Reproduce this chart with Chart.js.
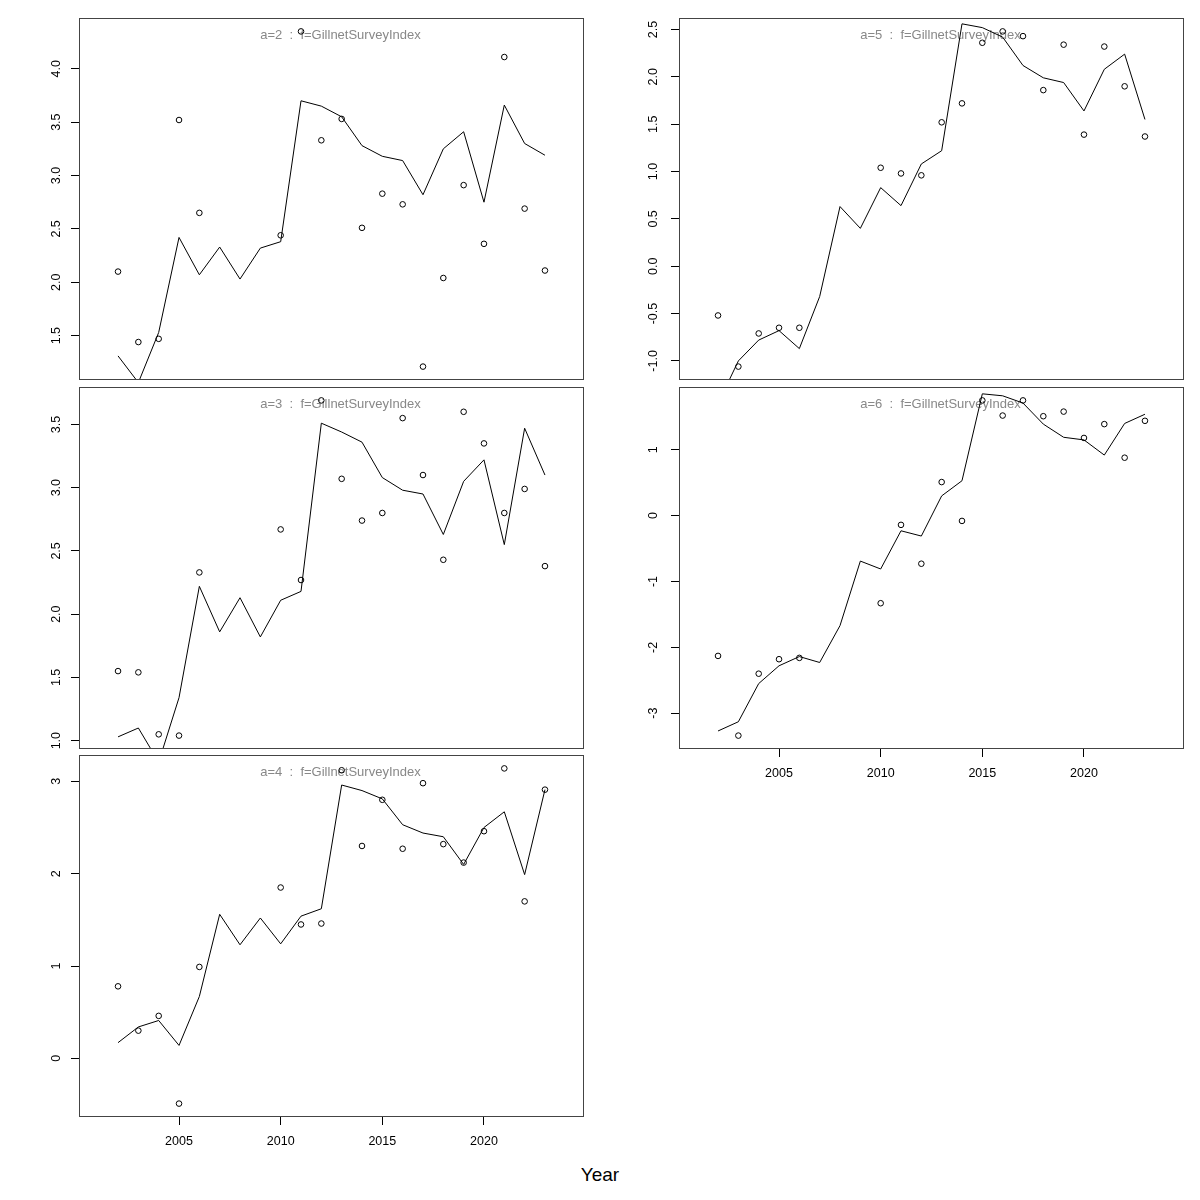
<!DOCTYPE html>
<html>
<head>
<meta charset="utf-8">
<script src="https://cdn.jsdelivr.net/npm/chart.js@4.4.1/dist/chart.umd.min.js"></script>
<style>
body { margin: 0; background: #fff; }
#wrap { position: relative; width: 1200px; height: 1200px; background: #fff; }
#wrap canvas { position: absolute; }
#xlab { position: absolute; left: 0; top: 1165px; width: 1200px; text-align: center;
	font: 19px "Liberation Sans", Arial, sans-serif; line-height: 19px; color: #000; }
</style>
</head>
<body>
<div id="wrap">
	<canvas id="a2" width="600" height="386" style="left:0px;top:6px"></canvas>
	<canvas id="a3" width="600" height="386" style="left:0px;top:375px"></canvas>
	<canvas id="a4" width="600" height="414" style="left:0px;top:743px"></canvas>
	<canvas id="a5" width="600" height="386" style="left:600px;top:6px"></canvas>
	<canvas id="a6" width="600" height="414" style="left:600px;top:375px"></canvas>
	<div id="xlab">Year</div>
</div>
<script>
// survey years
const years = [2002, 2003, 2004, 2005, 2006, 2007, 2008, 2009, 2010, 2011, 2012,
	2013, 2014, 2015, 2016, 2017, 2018, 2019, 2020, 2021, 2022, 2023];
const xTicks = [2005, 2010, 2015, 2020];

// observed (circles) and fitted (line), per age
const obsA2 = [2.10, 1.44, 1.47, 3.52, 2.65, null, null, null, 2.44, 4.35, 3.33,
	3.53, 2.51, 2.83, 2.73, 1.21, 2.04, 2.91, 2.36, 4.11, 2.69, 2.11];
const fitA2 = [1.31, 1.06, 1.53, 2.42, 2.07, 2.33, 2.03, 2.32, 2.38, 3.70, 3.65,
	3.55, 3.28, 3.18, 3.14, 2.82, 3.25, 3.41, 2.75, 3.66, 3.30, 3.19];

const obsA3 = [1.55, 1.54, 1.05, 1.04, 2.33, null, null, null, 2.67, 2.27, 3.69,
	3.07, 2.74, 2.80, 3.55, 3.10, 2.43, 3.60, 3.35, 2.80, 2.99, 2.38];
const fitA3 = [1.03, 1.10, 0.83, 1.34, 2.22, 1.86, 2.13, 1.82, 2.11, 2.18, 3.51,
	3.44, 3.36, 3.08, 2.98, 2.95, 2.63, 3.05, 3.22, 2.55, 3.47, 3.10];

const obsA4 = [0.78, 0.30, 0.46, -0.49, 0.99, null, null, null, 1.85, 1.45, 1.46,
	3.12, 2.30, 2.80, 2.27, 2.98, 2.32, 2.12, 2.46, 3.14, 1.70, 2.91];
const fitA4 = [0.17, 0.34, 0.41, 0.14, 0.67, 1.56, 1.23, 1.52, 1.24, 1.54, 1.62,
	2.96, 2.90, 2.81, 2.53, 2.44, 2.40, 2.10, 2.50, 2.67, 1.99, 2.91];

const obsA5 = [-0.52, -1.06, -0.71, -0.65, -0.65, null, null, null, 1.04, 0.98, 0.96,
	1.52, 1.72, 2.36, 2.48, 2.43, 1.86, 2.34, 1.39, 2.32, 1.90, 1.37];
const fitA5 = [-1.45, -1.00, -0.78, -0.68, -0.87, -0.32, 0.63, 0.40, 0.83, 0.64, 1.08,
	1.22, 2.56, 2.52, 2.42, 2.12, 1.99, 1.94, 1.64, 2.08, 2.24, 1.55];

const obsA6 = [-2.13, -3.34, -2.40, -2.18, -2.16, null, null, null, -1.33, -0.14, -0.73,
	0.51, -0.08, 1.75, 1.52, 1.75, 1.51, 1.58, 1.18, 1.39, 0.88, 1.44];
const fitA6 = [-3.27, -3.13, -2.55, -2.28, -2.14, -2.23, -1.67, -0.69, -0.81, -0.23, -0.31,
	0.30, 0.53, 1.85, 1.82, 1.71, 1.39, 1.19, 1.15, 0.92, 1.40, 1.54];

const yTicksA2 = [1.5, 2.0, 2.5, 3.0, 3.5, 4.0];
const yTicksA3 = [1.0, 1.5, 2.0, 2.5, 3.0, 3.5];
const yTicksA4 = [0, 1, 2, 3];
const yTicksA5 = [-1.0, -0.5, 0.0, 0.5, 1.0, 1.5, 2.0, 2.5];
const yTicksA6 = [-3, -2, -1, 0, 1];

const FONT = '"Liberation Sans", Arial, sans-serif';
var meas = document.createElement('canvas').getContext('2d');
meas.font = '12.5px ' + FONT;

// box round the plot region + the grey panel label
const boxPlugin = {
	id: 'box',
	beforeDatasetsDraw(chart) {
		var a = chart.chartArea;
		var ctx = chart.ctx;
		ctx.save();
		ctx.fillStyle = '#888';
		ctx.font = '13px ' + FONT;
		ctx.textAlign = 'center';
		ctx.textBaseline = 'middle';
		ctx.fillText(chart.options.panelLabel, (a.left + a.right) / 2 + 9, a.top + 17);
		ctx.restore();
	},
	afterDraw(chart) {
		var a = chart.chartArea;
		var ctx = chart.ctx;
		ctx.save();
		ctx.strokeStyle = '#444';
		ctx.lineWidth = 1;
		ctx.strokeRect(a.left + 0.5, a.top + 0.5, a.right - a.left - 1, a.bottom - a.top - 1);
		ctx.restore();
	}
};

function makePanel(id, label, obs, fit, yTicks, dec, showX, offset) {
	var vals = obs.filter(v => v !== null);
	var lo = Math.min.apply(null, vals);
	var hi = Math.max.apply(null, vals);
	var ext = (hi - lo) * 0.04;

	var labels = yTicks.map(v => v.toFixed(dec));
	var widest = Math.max.apply(null, labels.map(s => meas.measureText(s).width));

	return new Chart(document.getElementById(id), {
		type: 'scatter',
		data: {
			datasets: [{
				data: years.map((y, i) => ({x: y, y: obs[i]})).filter(p => p.y !== null),
				showLine: false,
				pointRadius: 2.8,
				pointBorderWidth: 1,
				borderColor: '#000',
				backgroundColor: 'rgba(0,0,0,0)'
			}, {
				data: years.map((y, i) => ({x: y, y: fit[i]})),
				showLine: true,
				pointRadius: 0,
				borderColor: '#000',
				borderWidth: 1,
				tension: 0,
				clip: 0
			}]
		},
		options: {
			panelLabel: label,
			responsive: false,
			animation: false,
			layout: {padding: {top: 12, bottom: showX ? 0 : 12, left: 0, right: 16}},
			plugins: {legend: {display: false}, tooltip: {enabled: false}},
			scales: {
				x: {
					type: 'linear',
					min: 2000.08,
					max: 2024.92,
					display: showX,
					afterBuildTicks: s => { s.ticks = xTicks.map(v => ({value: v})); },
					afterFit: s => { s.height = showX ? 40 : 0; s.paddingLeft = 0; s.paddingRight = 0; },
					grid: {drawOnChartArea: false, drawTicks: true, tickLength: 8, color: '#000'},
					border: {display: false},
					ticks: {color: '#000', font: {family: FONT, size: 12.5}, padding: 9,
						maxRotation: 0, callback: v => String(v)}
				},
				y: {
					type: 'linear',
					min: lo - ext,
					max: hi + ext,
					afterBuildTicks: s => { s.ticks = yTicks.map(v => ({value: v})); },
					afterFit: s => { s.width = 79; s.paddingTop = 0; s.paddingBottom = 0; },
					grid: {drawOnChartArea: false, drawTicks: true, tickLength: 8, color: '#000'},
					border: {display: false},
					ticks: {color: '#000', font: {family: FONT, size: 12.5},
						minRotation: 90, maxRotation: 90, crossAlign: 'center',
						padding: offset - 8 - widest / 2,
						callback: v => v.toFixed(dec)}
				}
			}
		},
		plugins: [boxPlugin]
	});
}

makePanel('a2', 'a=2  :  f=GillnetSurveyIndex', obsA2, fitA2, yTicksA2, 1, false, 22);
makePanel('a3', 'a=3  :  f=GillnetSurveyIndex', obsA3, fitA3, yTicksA3, 1, false, 22);
makePanel('a4', 'a=4  :  f=GillnetSurveyIndex', obsA4, fitA4, yTicksA4, 0, true, 22);
makePanel('a5', 'a=5  :  f=GillnetSurveyIndex', obsA5, fitA5, yTicksA5, 1, false, 25);
makePanel('a6', 'a=6  :  f=GillnetSurveyIndex', obsA6, fitA6, yTicksA6, 0, true, 25);
</script>
</body>
</html>
